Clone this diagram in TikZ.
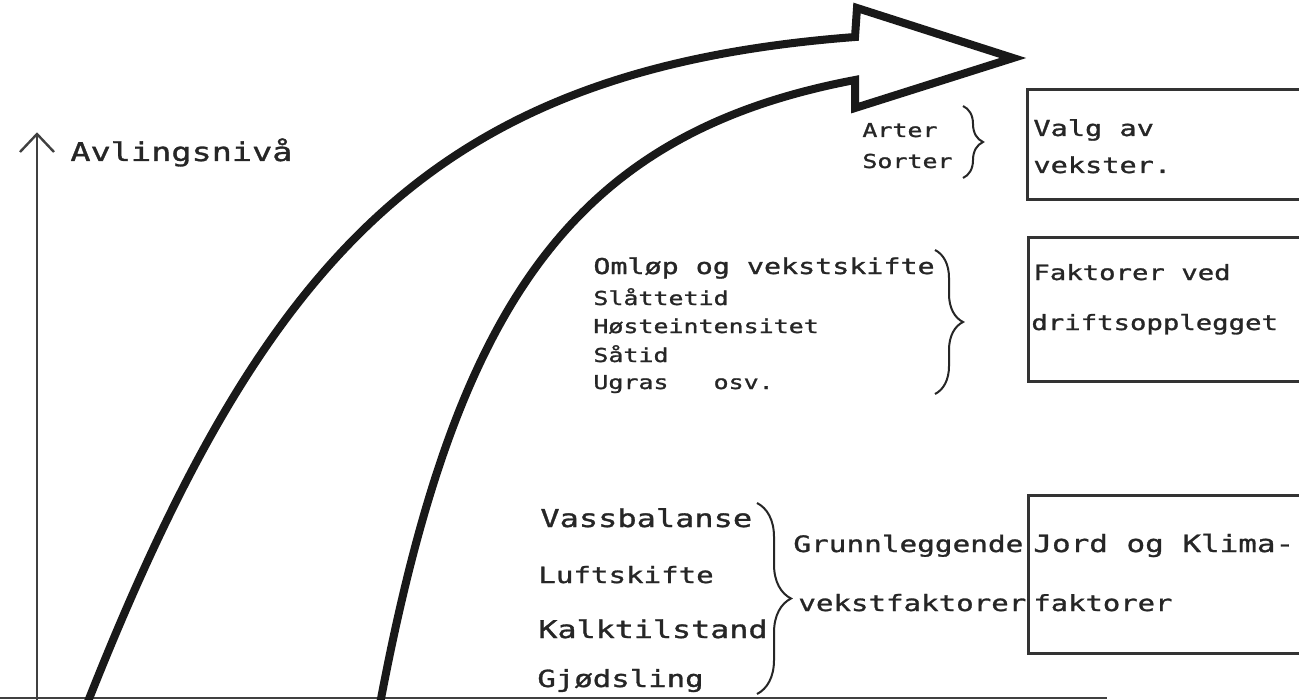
\documentclass[tikz,border=0pt]{standalone}
\usepackage{fontspec}
\newfontfamily\hand[FakeStretch=1.3,FakeBold=1.2]{DejaVu Sans Mono}
\usetikzlibrary{decorations.pathreplacing}
\tikzset{
  lab/.style={anchor=base west, inner sep=0pt, text=black!85},
  fs/.style={font=\hand\fontsize{#1}{#1}\selectfont},
  axisline/.style={line width=1.2pt, draw=black!75},
  bigarrow/.style={line width=4pt, line join=miter, draw=black!90},
  frame/.style={line width=1.5pt, draw=black!80},
  brc/.style={line width=1pt, draw=black!85, decorate, decoration={brace, amplitude=#1}}
}
\begin{document}
\begin{tikzpicture}[x=0.5pt, y=-0.5pt]
\path[use as bounding box] (0,0) rectangle (1299,700);
\clip (0,0) rectangle (1299,700);
\fill[white] (0,0) rectangle (1299,700);
% axes
\coordinate (yb) at (37,702);
\coordinate (yt) at (37,134);
\coordinate (xl) at (0,698);
\coordinate (xr) at (1107,698);
\draw[axisline] (yb) -- (yt);
\draw[axisline] (20,152) -- (yt) -- (54,152);
\draw[axisline] (xl) -- (xr);
\node[lab, fs=12.9] (avl) at (70,161) {Avlingsnivå};
% big hollow arrow
\draw[bigarrow] (87,704) .. controls (265,254) and (435,69) .. (855,37)
  -- (857,8) -- (1013,58) -- (855,108) -- (855,80)
  .. controls (570,134) and (455,307) .. (380,704);
% top group
\node[lab, fs=9.6] (arter) at (862,137) {Arter};
\node[lab, fs=9.6] (sorter) at (862,168) {Sorter};
\draw[brc=10pt] (963,106) -- (963,178);
\draw[frame] (1300,90) -- (1027,90) -- (1027,200) -- (1300,200);
\node[lab, fs=11] (valg) at (1033,136) {Valg av};
\node[lab, fs=11] (vekster) at (1033,173) {vekster.};
% middle group
\node[lab, fs=10.9] (omlop) at (593,274) {Omløp og vekstskifte};
\node[lab, fs=9.6] (slatt) at (593,305) {Slåttetid};
\node[lab, fs=9.6] (host) at (593,333) {Høsteintensitet};
\node[lab, fs=9.6] (satid) at (593,362) {Såtid};
\node[lab, fs=9.6] (ugras) at (593,389) {Ugras\ \ \ osv.};
\draw[brc=14pt] (935,250) -- (935,394);
\draw[frame] (1300,237) -- (1028,237) -- (1028,381) -- (1300,381);
\node[lab, fs=10.5] (fakt) at (1033,280) {Faktorer ved};
\node[lab, fs=10.5] (drift) at (1031,330) {driftsopplegget};
% bottom group
\node[lab, fs=12.3] (vass) at (540,527) {Vassbalanse};
\node[lab, fs=11.2] (luft) at (538,583) {Luftskifte};
\node[lab, fs=12.2] (kalk) at (538,638) {Kalktilstand};
\node[lab, fs=11.8] (gjod) at (537,687) {Gjødsling};
\draw[brc=17pt] (757,503) -- (757,694);
\node[lab, fs=11.3] (grunn) at (793,552) {Grunnleggende};
\node[lab, fs=11.2] (vfakt) at (798,611) {vekstfaktorer};
\draw[frame] (1300,495) -- (1028,495) -- (1028,653) -- (1300,653);
\node[lab, fs=11.9] (jord) at (1033,552) {Jord og Klima-};
\node[lab, fs=11.1] (fakt2) at (1033,611) {faktorer};
\end{tikzpicture}
\end{document}
